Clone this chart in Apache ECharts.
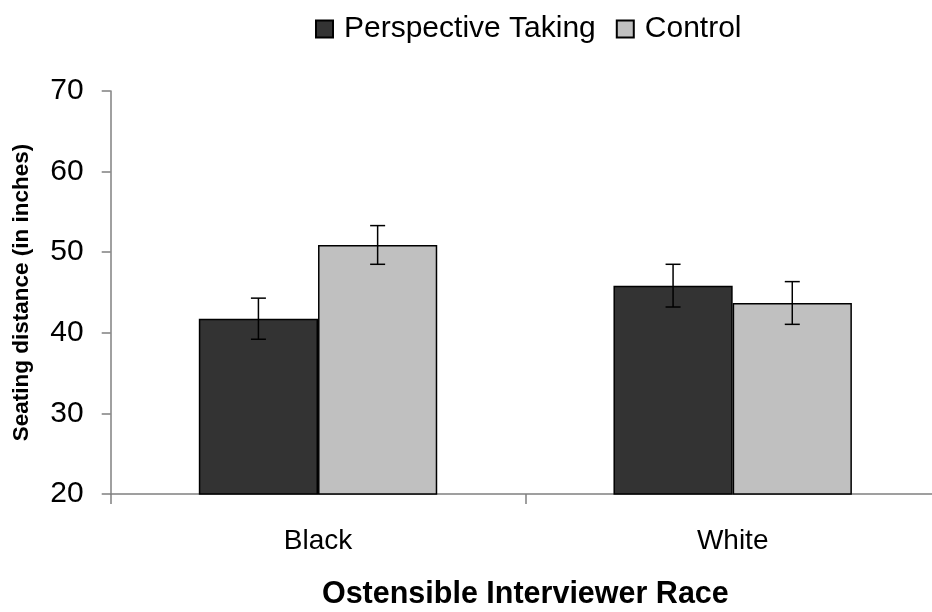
<!DOCTYPE html>
<html>
<head>
<meta charset="utf-8">
<script src="https://cdn.jsdelivr.net/npm/echarts@6/dist/echarts.min.js"></script>
<style>html,body{margin:0;padding:0;background:#fff;}#c{width:932px;height:612px;}</style>
</head>
<body>
<div id="c"></div>
<script>
var categories = ['Black', 'White'];
var seriesNames = ['Perspective Taking', 'Control'];
var ptValues = [41.75, 45.85];
var controlValues = [50.9, 43.7];
var ptErrors = [2.55, 2.65];
var controlErrors = [2.4, 2.65];
var yTicks = [20, 30, 40, 50, 60, 70];

var FONT = '"Liberation Sans", Arial, sans-serif';
var GAP = 0.425;

function errData(vals, errs) {
  return vals.map(function (v, i) { return [i, v, errs[i]]; });
}
function errSeries(vals, errs, side) {
  return {
    type: 'custom',
    z: 10,
    silent: true,
    data: errData(vals, errs),
    renderItem: function (params, api) {
      var idx = api.value(0), v = api.value(1), e = api.value(2);
      var band = api.size([1, 0])[0];
      var barW = band * (1 - GAP) / 2;
      var base = api.coord([idx, v]);
      var x = base[0] + side * barW / 2;
      var top = api.coord([idx, v + e])[1];
      var bot = api.coord([idx, v - e])[1];
      var cap = 7.5;
      var st = { stroke: '#000', lineWidth: 1.5 };
      return {
        type: 'group',
        children: [
          { type: 'line', shape: { x1: x, y1: top, x2: x, y2: bot }, style: st },
          { type: 'line', shape: { x1: x - cap, y1: top, x2: x + cap, y2: top }, style: st },
          { type: 'line', shape: { x1: x - cap, y1: bot, x2: x + cap, y2: bot }, style: st }
        ]
      };
    }
  };
}

var chart = echarts.init(document.getElementById('c'));
chart.setOption({
  animation: false,
  backgroundColor: '#fff',
  textStyle: { fontFamily: FONT, color: '#000' },
  legend: {
    data: seriesNames,
    icon: 'rect',
    left: 310,
    top: 9,
    itemWidth: 17,
    itemHeight: 17,
    itemGap: 20,
    textStyle: { fontSize: 30, color: '#000', fontFamily: FONT, padding: [0, 0, 0, 6] }
  },
  grid: { left: 110.7, width: 829.3, top: 91, height: 403, containLabel: false, outerBoundsMode: 'none' },
  xAxis: {
    type: 'category',
    data: categories,
    axisLine: { lineStyle: { color: '#808080', width: 1.5 } },
    axisTick: { show: true, length: 10, lineStyle: { color: '#808080', width: 1.5 } },
    axisLabel: { fontSize: 28, color: '#000', margin: 33, fontFamily: FONT },
    name: 'Ostensible Interviewer Race',
    nameLocation: 'middle',
    nameGap: 85,
    nameTextStyle: { fontSize: 30.5, fontWeight: 'bold', color: '#000', fontFamily: FONT }
  },
  yAxis: {
    type: 'value',
    min: yTicks[0],
    max: yTicks[yTicks.length - 1],
    interval: 10,
    splitLine: { show: false },
    axisLine: { show: true, lineStyle: { color: '#808080', width: 1.5 } },
    axisTick: { show: true, length: 9, lineStyle: { color: '#808080', width: 1.5 } },
    axisLabel: { fontSize: 30, color: '#000', margin: 27, fontFamily: FONT },
    name: 'Seating distance (in inches)',
    nameLocation: 'middle',
    nameGap: 77,
    nameTextStyle: { fontSize: 22.5, fontWeight: 'bold', color: '#000', fontFamily: FONT }
  },
  series: [
    {
      name: seriesNames[0], type: 'bar', data: ptValues,
      barGap: '0%', barCategoryGap: (GAP * 100) + '%',
      itemStyle: { color: '#333333', borderColor: '#000', borderWidth: 1.5 }
    },
    {
      name: seriesNames[1], type: 'bar', data: controlValues,
      barGap: '0%', barCategoryGap: (GAP * 100) + '%',
      itemStyle: { color: '#c0c0c0', borderColor: '#000', borderWidth: 1.5 }
    },
    errSeries(ptValues, ptErrors, -1),
    errSeries(controlValues, controlErrors, 1)
  ]
});
</script>
</body>
</html>
